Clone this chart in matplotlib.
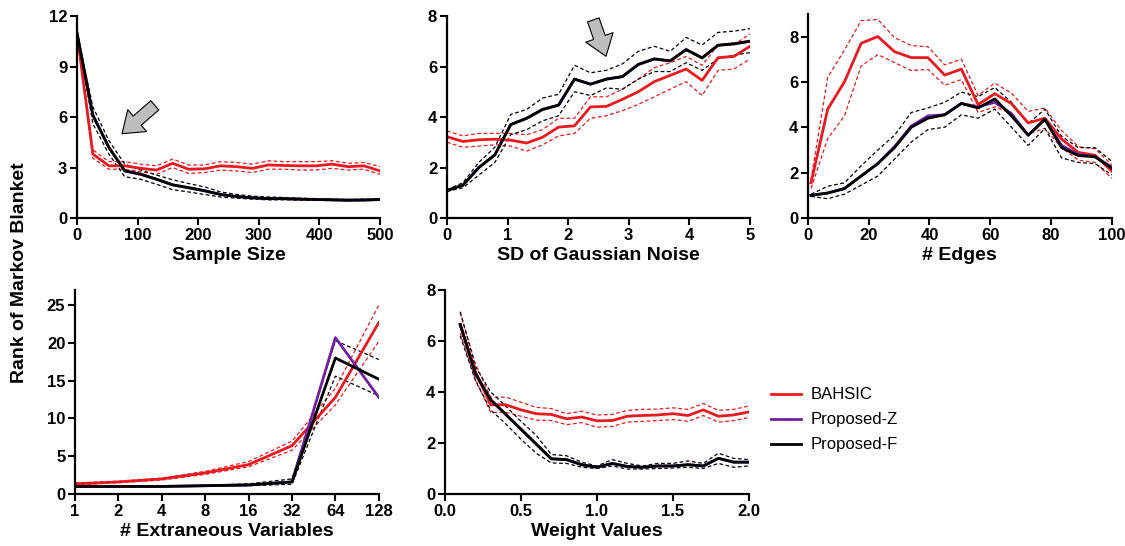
import numpy as np
import matplotlib
matplotlib.use("Agg")
import matplotlib.pyplot as plt
from matplotlib.ticker import FixedLocator, FixedFormatter
from matplotlib.lines import Line2D

plt.rcParams['font.family'] = ['Liberation Sans', 'DejaVu Sans']

RED = '#e8191f'
PURPLE = '#7020a0'
BLACK = 'black'

# ---- panel 1: sample size ----
n_x = np.linspace(0, 500, 20)
n_red = [11, 3.8, 3.1, 3.1, 2.95, 2.85, 3.25, 2.9, 2.92, 3.1, 3.05, 2.95, 3.15, 3.12, 3.1, 3.1, 3.2, 3.05, 3.1, 2.8]
n_red_hi = [11, 4.05, 3.35, 3.35, 3.2, 3.1, 3.5, 3.15, 3.15, 3.35, 3.3, 3.2, 3.4, 3.35, 3.35, 3.35, 3.4, 3.25, 3.3, 3.05]
n_red_lo = [11, 3.55, 2.9, 2.9, 2.75, 2.6, 3.0, 2.65, 2.7, 2.85, 2.8, 2.7, 2.9, 2.9, 2.85, 2.85, 2.95, 2.85, 2.9, 2.6]
n_blk = [11, 6.1, 4.2, 2.8, 2.6, 2.3, 1.97, 1.8, 1.62, 1.4, 1.28, 1.2, 1.15, 1.15, 1.12, 1.1, 1.08, 1.06, 1.07, 1.1]
n_blk_hi = [11, 6.6, 4.6, 3.2, 2.85, 2.55, 2.27, 2.05, 1.85, 1.55, 1.4, 1.3, 1.25, 1.22, 1.18, 1.15, 1.12, 1.1, 1.12, 1.15]
n_blk_lo = [11, 5.6, 3.8, 2.45, 2.3, 2.0, 1.68, 1.55, 1.4, 1.25, 1.18, 1.12, 1.08, 1.08, 1.06, 1.05, 1.04, 1.02, 1.03, 1.05]
n_pur = n_blk

# ---- panel 2: SD of gaussian noise ----
s_x = np.linspace(0, 5, 20)
s_red = [3.22, 3.03, 3.1, 3.12, 3.08, 2.97, 3.2, 3.6, 3.65, 4.4, 4.42, 4.7, 5.0, 5.4, 5.65, 5.9, 5.45, 6.35, 6.4, 6.8]
s_red_hi = [3.45, 3.25, 3.35, 3.35, 3.35, 3.3, 3.5, 3.95, 3.95, 4.8, 4.8, 5.1, 5.5, 5.95, 6.15, 6.4, 6.05, 6.85, 6.85, 7.3]
s_red_lo = [3.0, 2.8, 2.85, 2.9, 2.85, 2.65, 2.9, 3.25, 3.35, 3.95, 4.05, 4.25, 4.5, 4.8, 5.1, 5.4, 4.85, 5.85, 5.9, 6.3]
s_blk = [1.09, 1.3, 2.0, 2.5, 3.7, 3.95, 4.3, 4.47, 5.5, 5.3, 5.5, 5.6, 6.08, 6.3, 6.22, 6.67, 6.34, 6.84, 6.9, 7.0]
s_blk_hi = [1.12, 1.4, 2.2, 2.8, 4.1, 4.3, 4.75, 4.9, 6.05, 5.75, 5.85, 6.1, 6.6, 6.8, 6.6, 7.15, 6.85, 7.35, 7.4, 7.5]
s_blk_lo = [1.05, 1.2, 1.7, 2.2, 3.3, 3.5, 3.85, 4.05, 5.0, 4.85, 5.15, 5.1, 5.5, 5.8, 5.8, 6.15, 5.85, 6.3, 6.45, 6.55]
s_pur = s_blk

# ---- panel 3: edges ----
e_x = np.linspace(1, 100, 19)
e_red = [1.55, 4.8, 6.0, 7.7, 8.0, 7.33, 7.07, 7.07, 6.3, 6.56, 5.0, 5.48, 5.04, 4.19, 4.4, 3.48, 2.89, 2.77, 2.07]
e_red_hi = [1.7, 6.2, 7.4, 8.7, 8.75, 7.95, 7.6, 7.55, 6.75, 7.0, 5.4, 5.95, 5.5, 4.7, 4.85, 3.85, 3.15, 3.05, 2.35]
e_red_lo = [1.3, 3.5, 4.5, 6.7, 7.2, 6.85, 6.5, 6.55, 5.85, 6.1, 4.65, 4.9, 4.6, 3.7, 3.95, 3.1, 2.55, 2.45, 1.75]
e_blk = [1.0, 1.1, 1.3, 1.85, 2.4, 3.1, 4.0, 4.4, 4.55, 5.05, 4.85, 5.25, 4.5, 3.65, 4.35, 3.1, 2.75, 2.7, 2.2]
e_blk_hi = [1.05, 1.4, 1.55, 2.3, 3.0, 3.65, 4.65, 4.85, 5.1, 5.55, 5.35, 5.75, 5.1, 4.15, 4.8, 3.6, 3.1, 3.1, 2.5]
e_blk_lo = [0.95, 0.85, 1.05, 1.45, 1.85, 2.6, 3.35, 3.9, 4.0, 4.55, 4.4, 4.8, 4.0, 3.2, 3.95, 2.65, 2.45, 2.4, 1.9]
e_pur = [1.0, 1.1, 1.3, 1.85, 2.4, 3.15, 4.05, 4.5, 4.55, 5.05, 4.9, 5.1, 4.6, 3.65, 4.35, 3.2, 2.8, 2.7, 2.25]

# ---- panel 4: extraneous variables ----
v_x = [1, 2, 4, 8, 16, 32, 64, 128]
v_red = [1.35, 1.6, 2.0, 2.8, 3.9, 6.4, 12.8, 22.7]
v_red_hi = [1.45, 1.7, 2.1, 3.0, 4.3, 7.0, 14.0, 25.0]
v_red_lo = [1.2, 1.5, 1.85, 2.6, 3.6, 5.8, 11.8, 20.2]
v_blk = [1.0, 1.0, 1.0, 1.1, 1.2, 1.6, 18.0, 15.2]
v_blk_hi = [1.0, 1.0, 1.0, 1.15, 1.35, 2.0, 20.3, 17.8]
v_blk_lo = [1.0, 1.0, 1.0, 1.05, 1.1, 1.3, 15.6, 13.0]
v_pur = [1.0, 1.0, 1.0, 1.1, 1.2, 1.6, 20.7, 12.8]

# ---- panel 5: weight values ----
w_x = np.round(np.arange(0.1, 2.01, 0.1), 1)
w_red = [6.65, 4.8, 3.5, 3.5, 3.3, 3.15, 3.12, 2.95, 3.02, 2.87, 2.88, 3.05, 3.08, 3.1, 3.15, 3.08, 3.3, 3.05, 3.1, 3.22]
w_red_hi = [7.1, 5.1, 3.8, 3.8, 3.6, 3.4, 3.35, 3.15, 3.25, 3.1, 3.12, 3.28, 3.32, 3.33, 3.38, 3.32, 3.55, 3.28, 3.32, 3.45]
w_red_lo = [6.3, 4.5, 3.2, 3.2, 3.05, 2.9, 2.88, 2.72, 2.8, 2.62, 2.65, 2.82, 2.85, 2.88, 2.92, 2.85, 3.08, 2.82, 2.88, 3.0]
w_blk = [6.65, 4.72, 3.7, 3.12, 2.54, 1.96, 1.38, 1.35, 1.15, 1.05, 1.2, 1.08, 1.05, 1.1, 1.1, 1.15, 1.1, 1.4, 1.25, 1.25]
w_blk_hi = [7.15, 5.0, 4.0, 3.45, 2.85, 2.3, 1.55, 1.5, 1.25, 1.1, 1.35, 1.2, 1.1, 1.2, 1.2, 1.3, 1.2, 1.6, 1.4, 1.35]
w_blk_lo = [6.2, 4.45, 3.3, 2.75, 2.15, 1.6, 1.22, 1.2, 1.05, 1.0, 1.1, 0.98, 0.98, 1.0, 1.02, 1.05, 1.0, 1.2, 1.05, 1.1]
w_pur = w_blk

fig = plt.figure(figsize=(11.25, 5.46), dpi=100)

def panel(rect, x, red, rhi, rlo, blk, bhi, blo, pur, xlabel, xlim, ylim, yticks, xticks, logx=False):
    ax = fig.add_axes(rect)
    if logx:
        ax.set_xscale('log', base=2)
    ax.plot(x, rhi, color=RED, lw=0.9, dashes=(3, 2))
    ax.plot(x, rlo, color=RED, lw=0.9, dashes=(3, 2))
    ax.plot(x, bhi, color=BLACK, lw=0.9, dashes=(3, 2))
    ax.plot(x, blo, color=BLACK, lw=0.9, dashes=(3, 2))
    ax.plot(x, red, color=RED, lw=2)
    ax.plot(x, pur, color=PURPLE, lw=2)
    ax.plot(x, blk, color=BLACK, lw=2)
    ax.set_xlim(xlim)
    ax.set_ylim(ylim)
    ax.set_yticks(yticks)
    ax.xaxis.set_major_locator(FixedLocator(xticks))
    ax.xaxis.set_minor_locator(FixedLocator([]))
    for s in ['top', 'right']:
        ax.spines[s].set_visible(False)
    for s in ['left', 'bottom']:
        ax.spines[s].set_linewidth(1.6)
    ax.tick_params(direction='out', length=5, width=1.5, labelsize=12, pad=2)
    ax.set_xlabel(xlabel, fontsize=14, fontweight='bold', labelpad=3)
    return ax

ax1 = panel([0.0684, 0.6007, 0.2693, 0.370], n_x, n_red, n_red_hi, n_red_lo, n_blk, n_blk_hi, n_blk_lo, n_pur,
            'Sample Size', (0, 500), (0, 12), [0, 3, 6, 9, 12], [0, 100, 200, 300, 400, 500])
ax2 = panel([0.3973, 0.6007, 0.2693, 0.370], s_x, s_red, s_red_hi, s_red_lo, s_blk, s_blk_hi, s_blk_lo, s_pur,
            'SD of Gaussian Noise', (0, 5), (0, 8), [0, 2, 4, 6, 8], [0, 1, 2, 3, 4, 5])
ax3 = panel([0.7182, 0.6007, 0.2700, 0.374], e_x, e_red, e_red_hi, e_red_lo, e_blk, e_blk_hi, e_blk_lo, e_pur,
            '# Edges', (0, 100), (0, 9), [0, 2, 4, 6, 8], [0, 20, 40, 60, 80, 100])
ax4 = panel([0.0667, 0.0952, 0.270, 0.3736], v_x, v_red, v_red_hi, v_red_lo, v_blk, v_blk_hi, v_blk_lo, v_pur,
            '# Extraneous Variables', (1, 128), (0, 27), [0, 5, 10, 15, 20, 25], v_x, logx=True)
ax4.xaxis.set_major_formatter(FixedFormatter([str(v) for v in v_x]))
ax5 = panel([0.3956, 0.0952, 0.270, 0.3736], w_x, w_red, w_red_hi, w_red_lo, w_blk, w_blk_hi, w_blk_lo, w_pur,
            'Weight Values', (0, 2), (0, 8), [0, 2, 4, 6, 8], [0.0, 0.5, 1.0, 1.5, 2.0])
ax5.xaxis.set_major_formatter(FixedFormatter(['0.0', '0.5', '1.0', '1.5', '2.0']))

for ax in [ax1, ax2, ax3, ax4, ax5]:
    for lab in ax.get_xticklabels() + ax.get_yticklabels():
        lab.set_fontweight('bold')

# arrows
arrow = dict(arrowstyle='simple,head_width=1.3,head_length=0.9,tail_width=0.55',
             fc='#bdbdbd', ec='black', lw=0.8, mutation_scale=16)
ax1.annotate('', xy=(71, 4.9), xytext=(132, 6.8), arrowprops=arrow)
ax2.annotate('', xy=(2.64, 6.3), xytext=(2.40, 7.95), arrowprops=arrow, annotation_clip=False)

fig.text(0.017, 0.5, 'Rank of Markov Blanket', rotation=90, va='center', ha='center',
         fontsize=14, fontweight='bold')

# legend
handles = [Line2D([], [], color=RED, lw=2), Line2D([], [], color=PURPLE, lw=2), Line2D([], [], color=BLACK, lw=2)]
fig.legend(handles, ['BAHSIC', 'Proposed-Z', 'Proposed-F'], loc='center left',
           bbox_to_anchor=(0.672, 0.231), frameon=False, fontsize=12, handlelength=1.8,
           labelspacing=0.6, handletextpad=0.6)

fig.savefig('out.png', dpi=100)
